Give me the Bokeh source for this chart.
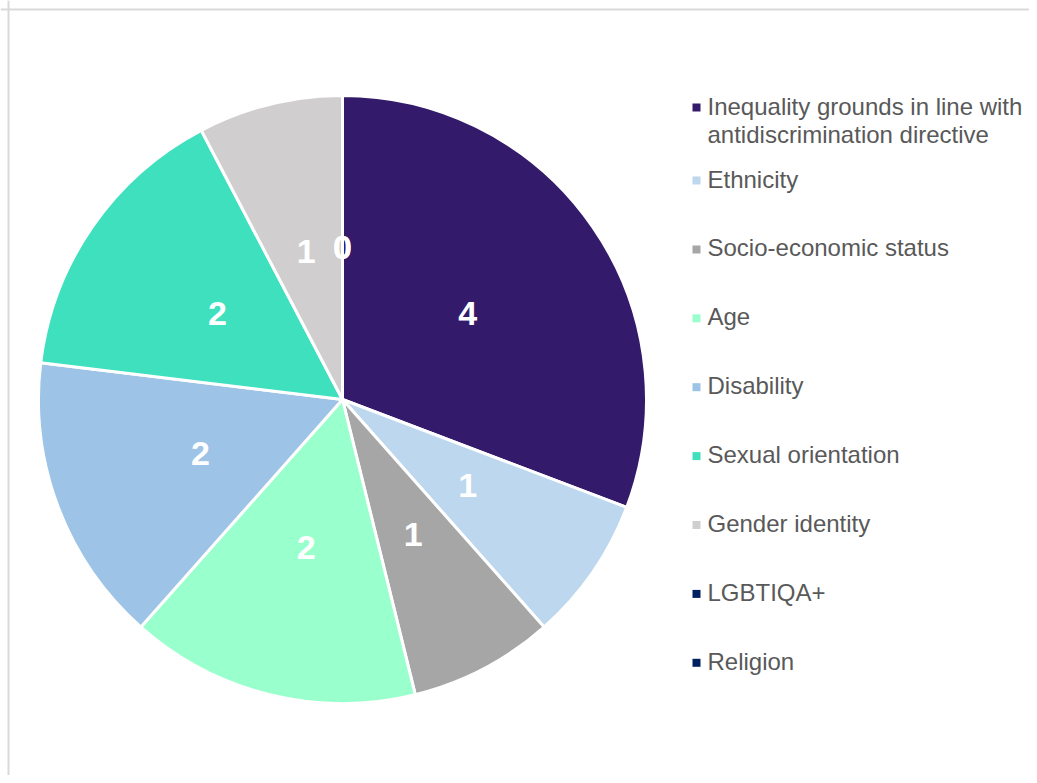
import numpy as np
from bokeh.plotting import figure
from bokeh.models import Range1d, Span, ColumnDataSource
from bokeh.core.properties import value
from bokeh.embed import file_html
from bokeh.resources import INLINE

categories = [
    "Inequality grounds in line with\nantidiscrimination directive",
    "Ethnicity",
    "Socio-economic status",
    "Age",
    "Disability",
    "Sexual orientation",
    "Gender identity",
    "LGBTIQA+",
    "Religion",
]
counts = [4, 1, 1, 2, 2, 2, 1, 0, 0]
colors = ["#341A6B", "#BDD7EE", "#A6A6A6", "#99FFCC", "#9DC3E6",
          "#3EE0BE", "#D0CECE", "#002060", "#002060"]

W, H = 1029, 775
p = figure(width=W, height=H, output_backend="svg", toolbar_location=None,
           x_range=Range1d(0, W), y_range=Range1d(0, H), min_border=0,
           outline_line_color=None)
p.axis.visible = False
p.grid.visible = False

# border lines (top and left visible in reference)
p.add_layout(Span(location=H - 9, dimension="width", line_color="#D9D9D9", line_width=2))
p.add_layout(Span(location=8, dimension="height", line_color="#D9D9D9", line_width=2))

cx, cy, R = 342, 376, 304
total = sum(counts)
vals = np.array(counts, dtype=float)
cum = np.concatenate([[0], np.cumsum(vals)])
start = np.pi / 2 - cum[:-1] / total * 2 * np.pi
end = np.pi / 2 - cum[1:] / total * 2 * np.pi
mid = (start + end) / 2

nz = vals > 0
src = ColumnDataSource(dict(start=start[nz], end=end[nz],
                            color=[c for c, k in zip(colors, nz) if k]))
p.wedge(x=cx, y=cy, radius=R, start_angle="end", end_angle="start",
        fill_color="color", line_color="white", line_width=3, source=src)

lr = R * 0.5
lx = cx + lr * np.cos(mid)
ly = cy + lr * np.sin(mid)
labels = [str(c) for c in counts]
# the two zero-valued slices share the same position
p.text(x=lx, y=ly, text=labels, text_color="white", text_font=value("Liberation Sans"),
       text_font_style="bold", text_font_size="34px", text_align="center",
       text_baseline="middle")

# legend
ys_img = [107]
y = 180
for i in range(1, len(categories)):
    ys_img.append(y)
    y += 68.9
ys = [H - v for v in ys_img]
p.rect(x=[696] * len(categories), y=ys, width=8, height=8, fill_color=colors, line_color=None)
p.text(x=[707] * len(categories), y=[v + 15 for v in ys], text=categories,
       text_color="#595959", text_font=value("Liberation Sans"),
       text_font_size="24px", text_align="left", text_baseline="top",
       text_line_height=1.05)

open("out.html", "w").write(file_html(p, INLINE))
